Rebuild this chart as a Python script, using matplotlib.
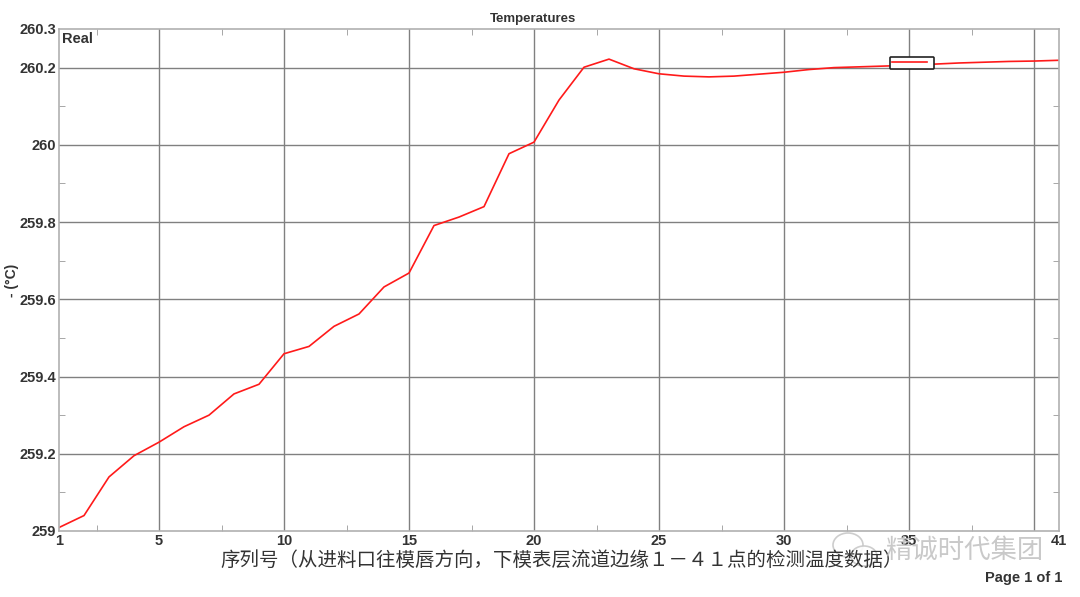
import numpy as np
import matplotlib.pyplot as plt
from matplotlib.lines import Line2D
from matplotlib.patches import Ellipse
from matplotlib.ticker import MultipleLocator

# temperature readings at points 1..41 along the lower die channel edge
points = list(range(1, 42))
temps = [259.009, 259.04, 259.14, 259.195, 259.23, 259.27, 259.30, 259.355, 259.38, 259.459,
         259.478, 259.53, 259.562, 259.632, 259.668, 259.791, 259.813, 259.84, 259.977, 260.007,
         260.116, 260.201, 260.222, 260.197, 260.184, 260.178, 260.176, 260.178, 260.183, 260.188,
         260.195, 260.20, 260.202, 260.204, 260.206, 260.209, 260.212, 260.214, 260.216, 260.217, 260.219]

xticks = [1, 5, 10, 15, 20, 25, 30, 35, 40, 41]
xtick_labels = ['1', '5', '10', '15', '20', '25', '30', '35', '', '41']
yticks = [259, 259.2, 259.4, 259.6, 259.8, 260, 260.2, 260.3]
ytick_labels = ['259', '259.2', '259.4', '259.6', '259.8', '260', '260.2', '260.3']

xlabel = '序列号（从进料口往模唇方向，下模表层流道边缘１－４１点的检测温度数据）'

plt.rcParams['font.family'] = ['Liberation Sans', 'DejaVu Sans']

fig = plt.figure(figsize=(10.8, 5.97), dpi=100)
ax = fig.add_axes([59 / 1080, 1 - 531 / 597, 1000 / 1080, 502 / 597])

ax.plot(points, temps, color='#ff1a1a', lw=1.2)
ax.set_xlim(1, 41)
ax.set_ylim(259, 260.3)

ax.set_xticks(xticks)
ax.set_xticklabels(xtick_labels)
ax.set_yticks(yticks)
ax.set_yticklabels(ytick_labels)
ax.xaxis.set_minor_locator(MultipleLocator(2.5))
ax.yaxis.set_minor_locator(MultipleLocator(0.1))
ax.tick_params(which='both', direction='in', top=True, right=True, colors='#999999',
               labelcolor='#333333', labelsize=10.5)
ax.tick_params(which='major', length=0, pad=2)
ax.tick_params(which='minor', length=4)
for lab in ax.get_xticklabels() + ax.get_yticklabels():
    lab.set_fontweight('bold')

# gridlines only at the inner major ticks
for gx in [5, 10, 15, 20, 25, 30, 35, 40]:
    ax.axvline(gx, color='#808080', lw=1.0, zorder=0)
for gy in [259.2, 259.4, 259.6, 259.8, 260, 260.2]:
    ax.axhline(gy, color='#808080', lw=1.0, zorder=0)

for s in ax.spines.values():
    s.set_color('#b0b0b0')
    s.set_linewidth(1.2)

ax.text(0.003, 0.995, 'Real', transform=ax.transAxes, ha='left', va='top',
        fontsize=10.5, fontweight='bold', color='#333333')

leg = ax.legend(handles=[Line2D([], [], color='#ff1a1a', lw=1.2)], labels=[' '],
                loc='center', bbox_to_anchor=(912 / 1080, 1 - 63 / 597),
                bbox_transform=fig.transFigure, frameon=True, fancybox=True,
                handlelength=4.2, handletextpad=0.3, borderpad=0.3, fontsize=6)
leg.get_frame().set_edgecolor('#222222')
leg.get_frame().set_linewidth(1.2)
leg.get_frame().set_alpha(1)

fig.text(533 / 1080, 1 - 19 / 597, 'Temperatures', ha='center', va='center',
         fontsize=9.5, fontweight='bold', color='#333333')
fig.text(12 / 1080, 1 - 280 / 597, '- (°C)', rotation=90, ha='center', va='center',
         fontsize=10, fontweight='bold', color='#333333')
fig.text(220 / 1080, 1 - 560 / 597, xlabel, ha='left', va='center', fontsize=14,
         family=['Noto Sans CJK SC', 'DejaVu Sans'], fontweight='light', color='#333333')

# watermark: chat-bubble icon and group name
for cx, cy, w, h in [(848, 545, 30, 24), (864, 556, 26, 20)]:
    fig.patches.append(Ellipse((cx / 1080, 1 - cy / 597), w / 1080, h / 597,
                               transform=fig.transFigure, fill=True, facecolor='white',
                               edgecolor='#c8c8c8', lw=1.2, alpha=0.9))
fig.text(1043 / 1080, 1 - 550 / 597, '精诚时代集团', ha='right', va='center', fontsize=19,
         family=['Noto Sans CJK SC', 'DejaVu Sans'], fontweight='light', color='#c0c0c0', alpha=0.85)
fig.text(1062 / 1080, 1 - 578 / 597, 'Page 1 of 1', ha='right', va='center',
         fontsize=10.5, fontweight='bold', color='#333333')

fig.savefig('out.png', dpi=100)
